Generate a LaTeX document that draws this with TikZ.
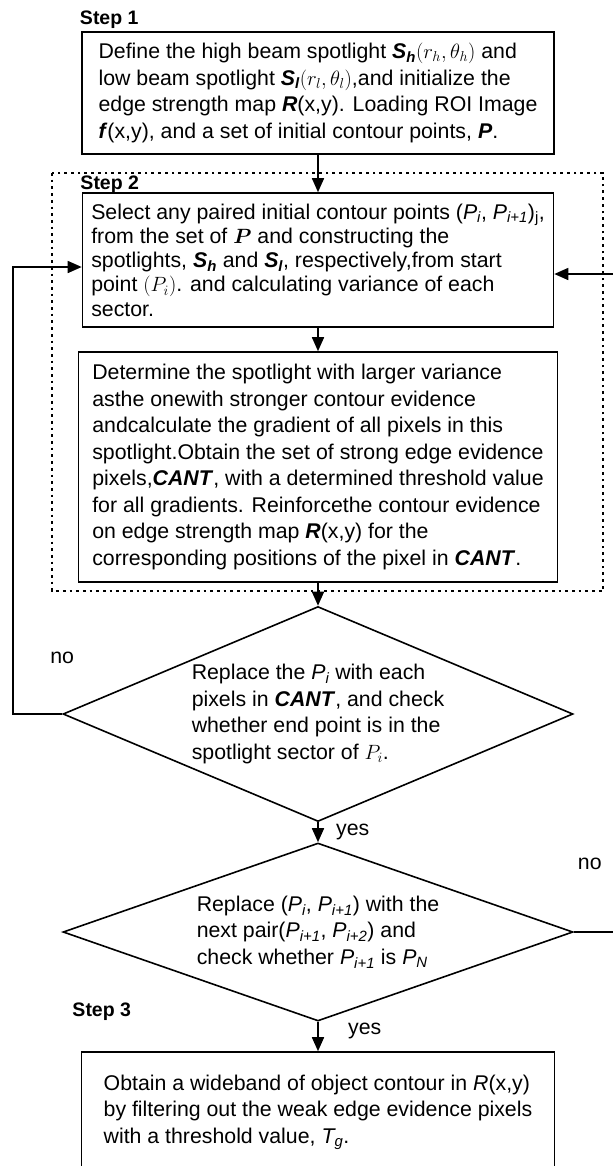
\documentclass[tikz,border=0pt]{standalone}
\usepackage{amsmath}
\usepackage{fontspec}
\setmainfont{Liberation Sans}
\usetikzlibrary{positioning,shapes.geometric,arrows.meta}

\newcommand{\bfit}[1]{\textbf{\textit{#1}}}
\newcommand{\psub}[1]{\textit{P\textsubscript{#1}}}

\begin{document}
\begin{tikzpicture}[x=1bp, y=1bp, auto, line width=1.6bp,
    font=\fontsize{21.3bp}{26.5bp}\selectfont,
    stepbox/.style={draw, rectangle, align=left},
    decision/.style={draw, diamond, align=left, inner sep=0pt, minimum width=510bp},
    steplabel/.style={anchor=base west, inner sep=0pt, font=\fontsize{19.5bp}{21bp}\selectfont\bfseries},
    flow/.style={-{Triangle[length=14bp, width=12bp]}},
    stepframe/.style={line width=2.7bp, dash pattern=on 2.7bp off 4bp}]
    \useasboundingbox (0,0) rectangle (613,-1166);

    \node (define) [stepbox, minimum width=472bp, minimum height=122bp] at (318,-93)
        {Define the high beam spotlight \bfit{S\textsubscript{h}}$(r_h,\theta_h)$ and\\
         low beam spotlight \bfit{S\textsubscript{l}}$(r_l,\theta_l)$,and initialize the\\
         edge strength map \bfit{R}(x,y). Loading ROI Image\\
         \bfit{f}(x,y), and a set of initial contour points, \bfit{P}.};
    \node (select) [stepbox, minimum width=471bp, minimum height=134bp, below of=define, node distance=167bp,
        font=\fontsize{21.3bp}{24.3bp}\selectfont]
        {Select any paired initial contour points (\psub{i}, \psub{i+1})\textsubscript{j},\\
         from the set of $\boldsymbol{P}$ and constructing the\\
         spotlights, \bfit{S\textsubscript{h}} and \bfit{S\textsubscript{l}}, respectively,from start\\
         point $(P_i)$. and calculating variance of each\\
         sector.};
    \node (determine) [stepbox, minimum width=479bp, minimum height=230bp, below of=select, node distance=207bp]
        {Determine the spotlight with larger variance\\
         asthe onewith stronger contour evidence\\
         andcalculate the gradient of all pixels in this\\
         spotlight.Obtain the set of strong edge evidence\\
         pixels,\bfit{CANT}, with a determined threshold value\\
         for all gradients. Reinforcethe contour evidence\\
         on edge strength map \bfit{R}(x,y) for the\\
         corresponding positions of the pixel in \bfit{CANT}.};
    \node (replace) [decision, minimum height=215bp, aspect=2.37, below of=determine, node distance=247bp]
        {Replace the \psub{i} with each\\
         pixels in \bfit{CANT}, and check\\
         whether end point is in the\\
         spotlight sector of $P_i$.};
    \node (nextpair) [decision, minimum height=178bp, aspect=2.87, below of=replace, node distance=218bp]
        {Replace (\psub{i}, \psub{i+1}) with the\\
         next pair(\psub{i+1}, \psub{i+2}) and\\
         check whether \psub{i+1} is \psub{N}};
    \node (wideband) [stepbox, minimum width=473bp, minimum height=120bp, below of=nextpair, node distance=180bp]
        {Obtain a wideband of object contour in \textit{R}(x,y)\\
         by filtering out the weak edge evidence pixels\\
         with a threshold value, \textit{T\textsubscript{g}}.};

    \node[steplabel] (step1) at ([shift={(-2,7)}]define.north west) {Step 1};
    \node[steplabel] (step2) at ([shift={(-2,3)}]select.north west) {Step 2};
    \node[steplabel] (step3) at ([shift={(-9,35)}]wideband.north west) {Step 3};

    \draw[stepframe] (52,-173) rectangle (603,-591);

    \draw[flow] (define) -- (select);
    \draw[flow] (select) -- (determine);
    \draw[flow] (determine) -- (replace);
    \draw[flow] (replace) -- node[right=14bp] {yes} (nextpair);
    \draw[flow] (nextpair) -- node[right=26bp, pos=0.3] {yes} (wideband);
    \draw[flow] (replace.west) node[above=46bp] {no} -- ++(-49,0) |- ([yshift=-7bp]select.west);
    \draw[flow] (nextpair.east) node[above=58bp, xshift=16bp] {no} -- ++(50,0) |- ([yshift=-14bp]select.east);
\end{tikzpicture}
\end{document}
